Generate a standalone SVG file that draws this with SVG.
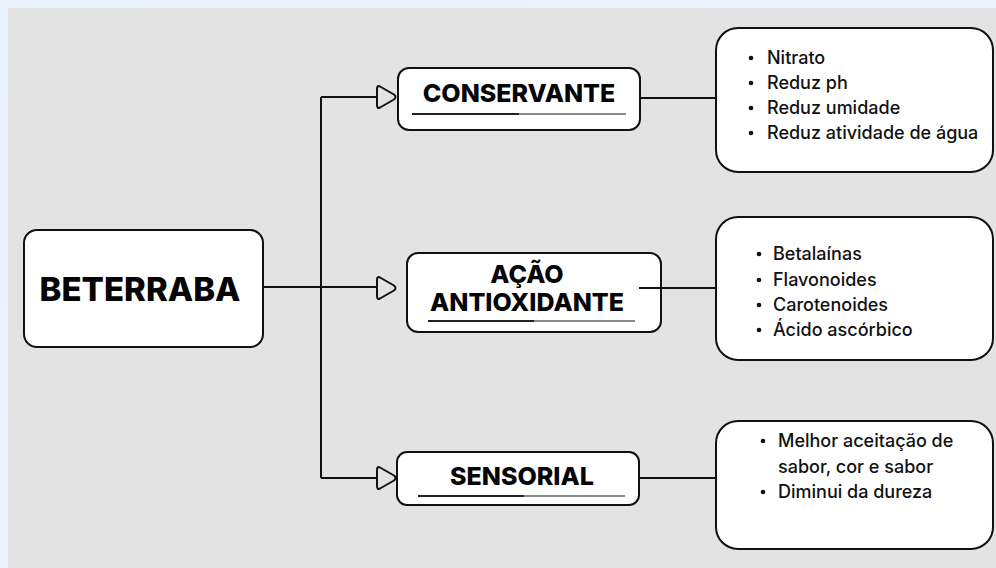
<svg xmlns="http://www.w3.org/2000/svg" width="996" height="568" viewBox="0 0 996 568">
<defs>
<linearGradient id="bg" x1="0" y1="0" x2="1" y2="1">
<stop offset="0" stop-color="#e9f1fb"/>
<stop offset="1" stop-color="#f3f6fb"/>
</linearGradient>
<path id="arr" d="M3,-10.5 L17,-2.5 Q20,0 17,2.5 L3,10.5 Q0,12 0,8 L0,-8 Q0,-12 3,-10.5 Z"/>
</defs>
<style>
.box{fill:#fff;stroke:#111;stroke-width:2}
.ln{fill:none;stroke:#111;stroke-width:2}
.arrow{fill:#e3e3e3;stroke:#111;stroke-width:2;stroke-linejoin:round}
.t{font-family:Inter,"Noto Sans","Liberation Sans",sans-serif;font-weight:800;fill:#050505;text-anchor:middle}
.b{font-family:Inter,"Noto Sans","Liberation Sans",sans-serif;font-size:18px;font-weight:500;fill:#111}
.ul1{stroke:#222;stroke-width:2}
.ul2{stroke:#8a8a8a;stroke-width:2}
</style>
<rect x="0" y="0" width="996" height="568" fill="url(#bg)"/>
<rect x="8" y="8" width="988" height="560" fill="#e3e3e3"/>

<g id="connectors">
<path class="ln" d="M263,287 H378"/>
<path class="ln" d="M321,97 V478"/>
<path class="ln" d="M321,97 H378"/>
<path class="ln" d="M321,478 H378"/>
<use href="#arr" class="arrow" x="377" y="97"/>
<use href="#arr" class="arrow" x="377" y="288"/>
<use href="#arr" class="arrow" x="377" y="478"/>
<path class="ln" d="M640,98 H716"/>
<path class="ln" d="M661,288 H716"/>
<path class="ln" d="M639,478 H716"/>
</g>

<g id="beterraba">
<rect class="box" x="24" y="230" width="239" height="117" rx="13"/>
<text class="t" x="140" y="301" font-size="33">BETERRABA</text>
</g>

<g id="conservante">
<rect class="box" x="398" y="68" width="242" height="62" rx="11"/>
<text class="t" x="519" y="102" font-size="25">CONSERVANTE</text>
<line class="ul1" x1="412" y1="114" x2="519" y2="114"/>
<line class="ul2" x1="519" y1="114" x2="626" y2="114"/>
</g>

<g id="antioxidante">
<rect class="box" x="407" y="253" width="254" height="79" rx="11"/>
<text class="t" x="527" y="283" font-size="25">AÇÃO</text>
<text class="t" x="527" y="311" font-size="25">ANTIOXIDANTE</text>
<line class="ul1" x1="428" y1="321" x2="534" y2="321"/>
<line class="ul2" x1="534" y1="321" x2="635" y2="321"/>
<path class="ln" d="M639,288 H661"/>
</g>

<g id="sensorial">
<rect class="box" x="397" y="452" width="242" height="53" rx="10"/>
<text class="t" x="522" y="485" font-size="25">SENSORIAL</text>
<line class="ul1" x1="418" y1="496" x2="524" y2="496"/>
<line class="ul2" x1="524" y1="496" x2="625" y2="496"/>
</g>

<g id="conservante-detalhes">
<rect class="box" x="716" y="28" width="277" height="144" rx="22"/>
<circle cx="751" cy="58" r="2.3" fill="#111"/>
<circle cx="751" cy="83" r="2.3" fill="#111"/>
<circle cx="751" cy="108" r="2.3" fill="#111"/>
<circle cx="751" cy="133" r="2.3" fill="#111"/>
<text class="b" x="767" y="64">Nitrato</text>
<text class="b" x="767" y="89">Reduz ph</text>
<text class="b" x="767" y="114">Reduz umidade</text>
<text class="b" x="767" y="139">Reduz atividade de água</text>
</g>

<g id="antioxidante-detalhes">
<rect class="box" x="716" y="217" width="277" height="143" rx="22"/>
<circle cx="759" cy="254" r="2.3" fill="#111"/>
<circle cx="759" cy="280" r="2.3" fill="#111"/>
<circle cx="759" cy="305" r="2.3" fill="#111"/>
<circle cx="759" cy="330" r="2.3" fill="#111"/>
<text class="b" x="773" y="260">Betalaínas</text>
<text class="b" x="773" y="286">Flavonoides</text>
<text class="b" x="773" y="311">Carotenoides</text>
<text class="b" x="773" y="336">Ácido ascórbico</text>
</g>

<g id="sensorial-detalhes">
<rect class="box" x="716" y="421" width="277" height="128" rx="22"/>
<circle cx="763" cy="441" r="2.3" fill="#111"/>
<circle cx="763" cy="492" r="2.3" fill="#111"/>
<text class="b" x="778" y="447">Melhor aceitação de</text>
<text class="b" x="778" y="473">sabor, cor e sabor</text>
<text class="b" x="778" y="498">Diminui da dureza</text>
</g>
</svg>
